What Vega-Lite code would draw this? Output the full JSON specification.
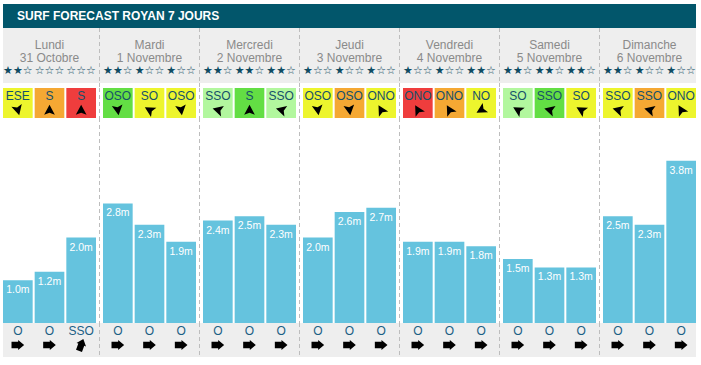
{
  "$schema": "https://vega.github.io/schema/vega-lite/v6.json",
  "padding": {"left": 3, "top": 4, "right": 5, "bottom": 8},
  "background": "white",
  "spacing": 0,
  "bounds": "flush",
  "datasets": {
    "days": [
      {"day": "Lundi", "label": "Lundi\n31 Octobre"},
      {"day": "Mardi", "label": "Mardi\n1 Novembre"},
      {"day": "Mercredi", "label": "Mercredi\n2 Novembre"},
      {"day": "Jeudi", "label": "Jeudi\n3 Novembre"},
      {"day": "Vendredi", "label": "Vendredi\n4 Novembre"},
      {"day": "Samedi", "label": "Samedi\n5 Novembre"},
      {"day": "Dimanche", "label": "Dimanche\n6 Novembre"}
    ],
    "slots": [
      {"day": "Lundi", "p": 1, "stars": "★★☆", "wind": "ESE", "windQ": "moyen", "windDeg": 165, "hs": 1.0, "hsText": "1.0m", "swell": "O", "swellDeg": 90},
      {"day": "Lundi", "p": 2, "stars": "☆☆☆", "wind": "S", "windQ": "médiocre", "windDeg": 0, "hs": 1.2, "hsText": "1.2m", "swell": "O", "swellDeg": 90},
      {"day": "Lundi", "p": 3, "stars": "☆☆☆", "wind": "S", "windQ": "mauvais", "windDeg": 0, "hs": 2.0, "hsText": "2.0m", "swell": "SSO", "swellDeg": 20},
      {"day": "Mardi", "p": 1, "stars": "★★☆", "wind": "OSO", "windQ": "excellent", "windDeg": 172, "hs": 2.8, "hsText": "2.8m", "swell": "O", "swellDeg": 90},
      {"day": "Mardi", "p": 2, "stars": "★☆☆", "wind": "SO", "windQ": "moyen", "windDeg": 300, "hs": 2.3, "hsText": "2.3m", "swell": "O", "swellDeg": 90},
      {"day": "Mardi", "p": 3, "stars": "★☆☆", "wind": "OSO", "windQ": "moyen", "windDeg": 172, "hs": 1.9, "hsText": "1.9m", "swell": "O", "swellDeg": 90},
      {"day": "Mercredi", "p": 1, "stars": "★★☆", "wind": "SSO", "windQ": "bon", "windDeg": 285, "hs": 2.4, "hsText": "2.4m", "swell": "O", "swellDeg": 90},
      {"day": "Mercredi", "p": 2, "stars": "★★☆", "wind": "S", "windQ": "excellent", "windDeg": 0, "hs": 2.5, "hsText": "2.5m", "swell": "O", "swellDeg": 90},
      {"day": "Mercredi", "p": 3, "stars": "★★☆", "wind": "SSO", "windQ": "bon", "windDeg": 285, "hs": 2.3, "hsText": "2.3m", "swell": "O", "swellDeg": 90},
      {"day": "Jeudi", "p": 1, "stars": "★☆☆", "wind": "OSO", "windQ": "moyen", "windDeg": 172, "hs": 2.0, "hsText": "2.0m", "swell": "O", "swellDeg": 90},
      {"day": "Jeudi", "p": 2, "stars": "★☆☆", "wind": "OSO", "windQ": "médiocre", "windDeg": 172, "hs": 2.6, "hsText": "2.6m", "swell": "O", "swellDeg": 90},
      {"day": "Jeudi", "p": 3, "stars": "★☆☆", "wind": "ONO", "windDeg": 330, "windQ": "moyen", "hs": 2.7, "hsText": "2.7m", "swell": "O", "swellDeg": 90},
      {"day": "Vendredi", "p": 1, "stars": "★☆☆", "wind": "ONO", "windQ": "mauvais", "windDeg": 330, "hs": 1.9, "hsText": "1.9m", "swell": "O", "swellDeg": 90},
      {"day": "Vendredi", "p": 2, "stars": "★☆☆", "wind": "ONO", "windQ": "médiocre", "windDeg": 330, "hs": 1.9, "hsText": "1.9m", "swell": "O", "swellDeg": 90},
      {"day": "Vendredi", "p": 3, "stars": "★★☆", "wind": "NO", "windQ": "moyen", "windDeg": 240, "hs": 1.8, "hsText": "1.8m", "swell": "O", "swellDeg": 90},
      {"day": "Samedi", "p": 1, "stars": "★★☆", "wind": "SO", "windQ": "bon", "windDeg": 300, "hs": 1.5, "hsText": "1.5m", "swell": "O", "swellDeg": 90},
      {"day": "Samedi", "p": 2, "stars": "★★☆", "wind": "SSO", "windQ": "excellent", "windDeg": 285, "hs": 1.3, "hsText": "1.3m", "swell": "O", "swellDeg": 90},
      {"day": "Samedi", "p": 3, "stars": "★★☆", "wind": "SO", "windQ": "moyen", "windDeg": 300, "hs": 1.3, "hsText": "1.3m", "swell": "O", "swellDeg": 90},
      {"day": "Dimanche", "p": 1, "stars": "★★☆", "wind": "SSO", "windQ": "moyen", "windDeg": 285, "hs": 2.5, "hsText": "2.5m", "swell": "O", "swellDeg": 90},
      {"day": "Dimanche", "p": 2, "stars": "★☆☆", "wind": "SSO", "windQ": "médiocre", "windDeg": 285, "hs": 2.3, "hsText": "2.3m", "swell": "O", "swellDeg": 90},
      {"day": "Dimanche", "p": 3, "stars": "★☆☆", "wind": "ONO", "windQ": "moyen", "windDeg": 330, "hs": 3.8, "hsText": "3.8m", "swell": "O", "swellDeg": 90}
    ]
  },
  "vconcat": [
    {
      "width": 693, "height": 24,
      "view": {"fill": "#02566b", "stroke": null},
      "data": {"values": [{}]},
      "mark": {"type": "text", "align": "left", "baseline": "middle", "dx": -35.5, "color": "white", "font": "Liberation Sans", "fontSize": 12, "fontWeight": "bold"},
      "encoding": {
        "x": {"datum": "Lundi", "type": "nominal", "axis": null,
              "scale": {"domain": ["Lundi","Mardi","Mercredi","Jeudi","Vendredi","Samedi","Dimanche"], "paddingInner": 0.07, "paddingOuter": 0}},
        "text": {"value": "SURF FORECAST ROYAN 7 JOURS"}
      }
    },
    {
      "width": 693, "height": 55,
      "view": {"fill": "#eeeeee", "stroke": null},
      "layer": [
        {
          "data": {"name": "days"},
          "mark": {"type": "text", "lineBreak": "\n", "lineHeight": 12.5, "baseline": "middle", "font": "Liberation Sans", "fontSize": 12, "color": "#8a8a8a"},
          "encoding": {
            "x": {"field": "day", "type": "nominal", "axis": null, "scale": {"domain": ["Lundi","Mardi","Mercredi","Jeudi","Vendredi","Samedi","Dimanche"], "paddingInner": 0.07, "paddingOuter": 0}},
            "y": {"datum": "label", "type": "nominal", "axis": null, "scale": {"type": "point", "domain": ["label", "stars"], "padding": 0.58, "align": 0.584}},
            "text": {"field": "label"}
          }
        },
        {
          "data": {"name": "slots"},
          "mark": {"type": "text", "baseline": "middle", "font": "DejaVu Sans", "fontSize": 11, "color": "#0f4c63"},
          "encoding": {
            "x": {"field": "day", "type": "nominal", "axis": null, "scale": {"domain": ["Lundi","Mardi","Mercredi","Jeudi","Vendredi","Samedi","Dimanche"], "paddingInner": 0.07, "paddingOuter": 0}},
            "xOffset": {"field": "p", "type": "ordinal", "scale": {"domain": [1, 2, 3], "paddingInner": 0.063, "paddingOuter": 0}},
            "y": {"datum": "stars", "type": "nominal", "axis": null, "scale": {"type": "point", "domain": ["label", "stars"], "padding": 0.58, "align": 0.584}},
            "text": {"field": "stars"}
          }
        },
        {
          "data": {"name": "days"},
          "transform": [{"filter": "datum.day !== 'Lundi'"}],
          "mark": {"type": "rule", "color": "#bdbdbd", "strokeDash": [4, 3], "xOffset": -3.5},
          "encoding": {
            "x": {"field": "day", "type": "nominal", "bandPosition": 0, "axis": null, "scale": {"domain": ["Lundi","Mardi","Mercredi","Jeudi","Vendredi","Samedi","Dimanche"], "paddingInner": 0.07, "paddingOuter": 0}}
          }
        }
      ]
    },
    {
      "width": 693, "height": 5,
      "view": {"stroke": null},
      "data": {"name": "days"},
      "transform": [{"filter": "datum.day !== 'Lundi'"}],
      "mark": {"type": "rule", "color": "#bdbdbd", "strokeDash": [4, 3], "xOffset": -3.5},
      "encoding": {
        "x": {"field": "day", "type": "nominal", "bandPosition": 0, "axis": null, "scale": {"domain": ["Lundi","Mardi","Mercredi","Jeudi","Vendredi","Samedi","Dimanche"], "paddingInner": 0.07, "paddingOuter": 0}}
      }
    },
    {
      "width": 693, "height": 30,
      "view": {"stroke": null},
      "layer": [
        {
          "data": {"name": "slots"},
          "mark": {"type": "rect"},
          "encoding": {
            "x": {"field": "day", "type": "nominal", "axis": null, "scale": {"domain": ["Lundi","Mardi","Mercredi","Jeudi","Vendredi","Samedi","Dimanche"], "paddingInner": 0.07, "paddingOuter": 0}},
            "xOffset": {"field": "p", "type": "ordinal", "scale": {"domain": [1, 2, 3], "paddingInner": 0.063, "paddingOuter": 0}},
            "color": {"field": "windQ", "type": "nominal", "legend": null,
                      "scale": {"domain": ["excellent", "bon", "moyen", "médiocre", "mauvais"], "range": ["#63de44", "#b2f79e", "#edf52d", "#f5a833", "#ef3d3d"]}}
          }
        },
        {
          "data": {"name": "slots"},
          "mark": {"type": "text", "baseline": "middle", "font": "Liberation Sans", "fontSize": 12, "color": "#16506a"},
          "encoding": {
            "x": {"field": "day", "type": "nominal", "axis": null, "scale": {"domain": ["Lundi","Mardi","Mercredi","Jeudi","Vendredi","Samedi","Dimanche"], "paddingInner": 0.07, "paddingOuter": 0}},
            "xOffset": {"field": "p", "type": "ordinal", "scale": {"domain": [1, 2, 3], "paddingInner": 0.063, "paddingOuter": 0}},
            "y": {"datum": "dir", "type": "nominal", "axis": null, "scale": {"type": "point", "domain": ["dir", "arrow"], "padding": 0.5714, "align": 0.5}},
            "text": {"field": "wind"}
          }
        },
        {
          "data": {"name": "slots"},
          "mark": {"type": "point", "filled": true, "color": "black", "opacity": 1, "size": 115, "shape": "M0,-1L1,0.9L0,0.5L-1,0.9Z"},
          "encoding": {
            "x": {"field": "day", "type": "nominal", "axis": null, "scale": {"domain": ["Lundi","Mardi","Mercredi","Jeudi","Vendredi","Samedi","Dimanche"], "paddingInner": 0.07, "paddingOuter": 0}},
            "xOffset": {"field": "p", "type": "ordinal", "scale": {"domain": [1, 2, 3], "paddingInner": 0.063, "paddingOuter": 0}},
            "y": {"datum": "arrow", "type": "nominal", "axis": null, "scale": {"type": "point", "domain": ["dir", "arrow"], "padding": 0.5714, "align": 0.5}},
            "angle": {"field": "windDeg", "type": "quantitative", "scale": null}
          }
        },
        {
          "data": {"name": "days"},
          "transform": [{"filter": "datum.day !== 'Lundi'"}],
          "mark": {"type": "rule", "color": "#bdbdbd", "strokeDash": [4, 3], "xOffset": -3.5},
          "encoding": {
            "x": {"field": "day", "type": "nominal", "bandPosition": 0, "axis": null, "scale": {"domain": ["Lundi","Mardi","Mercredi","Jeudi","Vendredi","Samedi","Dimanche"], "paddingInner": 0.07, "paddingOuter": 0}}
          }
        }
      ]
    },
    {
      "width": 693, "height": 205,
      "view": {"stroke": null},
      "layer": [
        {
          "data": {"name": "days"},
          "transform": [{"filter": "datum.day !== 'Lundi'"}],
          "mark": {"type": "rule", "color": "#bdbdbd", "strokeDash": [4, 3], "xOffset": -3.5},
          "encoding": {
            "x": {"field": "day", "type": "nominal", "bandPosition": 0, "axis": null, "scale": {"domain": ["Lundi","Mardi","Mercredi","Jeudi","Vendredi","Samedi","Dimanche"], "paddingInner": 0.07, "paddingOuter": 0}}
          }
        },
        {
          "data": {"name": "slots"},
          "mark": {"type": "bar", "color": "#65c3de"},
          "encoding": {
            "x": {"field": "day", "type": "nominal", "axis": null, "scale": {"domain": ["Lundi","Mardi","Mercredi","Jeudi","Vendredi","Samedi","Dimanche"], "paddingInner": 0.07, "paddingOuter": 0}},
            "xOffset": {"field": "p", "type": "ordinal", "scale": {"domain": [1, 2, 3], "paddingInner": 0.063, "paddingOuter": 0}},
            "y": {"field": "hs", "type": "quantitative", "axis": null, "scale": {"domain": [0, 4.8], "nice": false, "zero": true}}
          }
        },
        {
          "data": {"name": "slots"},
          "mark": {"type": "text", "baseline": "top", "dy": 5, "font": "Liberation Sans", "fontSize": 10.5, "color": "white"},
          "encoding": {
            "x": {"field": "day", "type": "nominal", "axis": null, "scale": {"domain": ["Lundi","Mardi","Mercredi","Jeudi","Vendredi","Samedi","Dimanche"], "paddingInner": 0.07, "paddingOuter": 0}},
            "xOffset": {"field": "p", "type": "ordinal", "scale": {"domain": [1, 2, 3], "paddingInner": 0.063, "paddingOuter": 0}},
            "y": {"field": "hs", "type": "quantitative", "axis": null, "scale": {"domain": [0, 4.8], "nice": false, "zero": true}},
            "text": {"field": "hsText"}
          }
        }
      ]
    },
    {
      "width": 693, "height": 34,
      "view": {"fill": "#eeeeee", "stroke": null},
      "layer": [
        {
          "data": {"name": "slots"},
          "mark": {"type": "text", "baseline": "middle", "font": "Liberation Sans", "fontSize": 12, "color": "#1c5f85"},
          "encoding": {
            "x": {"field": "day", "type": "nominal", "axis": null, "scale": {"domain": ["Lundi","Mardi","Mercredi","Jeudi","Vendredi","Samedi","Dimanche"], "paddingInner": 0.07, "paddingOuter": 0}},
            "xOffset": {"field": "p", "type": "ordinal", "scale": {"domain": [1, 2, 3], "paddingInner": 0.063, "paddingOuter": 0}},
            "y": {"datum": "dir", "type": "nominal", "axis": null, "scale": {"type": "point", "domain": ["dir", "arrow"], "padding": 0.689, "align": 0.39}},
            "text": {"field": "swell"}
          }
        },
        {
          "data": {"name": "slots"},
          "mark": {"type": "point", "filled": true, "color": "black", "opacity": 1, "size": 160, "shape": "M0,-1L0.8,-0.05L0.5,-0.05L0.5,1L-0.5,1L-0.5,-0.05L-0.8,-0.05Z"},
          "encoding": {
            "x": {"field": "day", "type": "nominal", "axis": null, "scale": {"domain": ["Lundi","Mardi","Mercredi","Jeudi","Vendredi","Samedi","Dimanche"], "paddingInner": 0.07, "paddingOuter": 0}},
            "xOffset": {"field": "p", "type": "ordinal", "scale": {"domain": [1, 2, 3], "paddingInner": 0.063, "paddingOuter": 0}},
            "y": {"datum": "arrow", "type": "nominal", "axis": null, "scale": {"type": "point", "domain": ["dir", "arrow"], "padding": 0.689, "align": 0.39}},
            "angle": {"field": "swellDeg", "type": "quantitative", "scale": null}
          }
        },
        {
          "data": {"name": "days"},
          "transform": [{"filter": "datum.day !== 'Lundi'"}],
          "mark": {"type": "rule", "color": "#bdbdbd", "strokeDash": [4, 3], "xOffset": -3.5},
          "encoding": {
            "x": {"field": "day", "type": "nominal", "bandPosition": 0, "axis": null, "scale": {"domain": ["Lundi","Mardi","Mercredi","Jeudi","Vendredi","Samedi","Dimanche"], "paddingInner": 0.07, "paddingOuter": 0}}
          }
        }
      ]
    }
  ],
  "config": {
    "view": {"stroke": null},
    "concat": {"spacing": 0}
  }
}
